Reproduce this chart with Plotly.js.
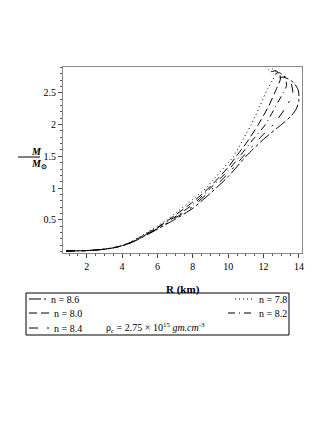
<!DOCTYPE html>
<html>
<head>
<meta charset="utf-8">
<script src="https://cdn.plot.ly/plotly-3.0.1.min.js"></script>
<style>
  body { margin: 0; background: #fff; }
  #chart { width: 327px; height: 423px; }
</style>
</head>
<body>
<div id="chart"></div>
<script>
// mass-radius curves, R in km, M in solar masses
var names = ['n = 8.6', 'n = 8.0', 'n = 8.4', 'n = 7.8', 'n = 8.2'];
var dashes = ['12px,3px,3px,3px', '8px,4px', '9px,9px,2px,9px', '1px,3px', '7px,4px,1px,4px'];

var r86 = [0.83, 2.0, 3.0, 3.5, 4.0, 4.5, 5.0, 6.0, 6.95, 8.0, 9.0, 10.0, 11.0, 12.0, 13.0, 13.5, 13.85, 14.0, 13.95, 13.7, 13.4, 13.1, 12.9];
var m86 = [0.005, 0.012, 0.033, 0.055, 0.088, 0.135, 0.2, 0.35, 0.5, 0.68, 0.92, 1.18, 1.5, 1.77, 2.0, 2.12, 2.25, 2.4, 2.55, 2.66, 2.72, 2.75, 2.74];

var r80 = [0.83, 2.0, 3.0, 3.5, 4.0, 4.5, 5.0, 6.0, 6.65, 8.0, 8.9, 10.0, 10.45, 11.0, 11.7, 12.3, 12.7, 12.95, 12.9, 12.7, 12.5, 12.3];
var m80 = [0.005, 0.012, 0.034, 0.057, 0.09, 0.145, 0.22, 0.38, 0.5, 0.78, 1.0, 1.33, 1.5, 1.7, 2.0, 2.3, 2.55, 2.72, 2.8, 2.85, 2.84, 2.83];

var r84 = [0.83, 2.0, 3.0, 3.5, 4.0, 4.5, 5.0, 6.0, 6.85, 8.0, 9.15, 10.0, 10.85, 12.0, 12.55, 13.2, 13.55, 13.65, 13.55, 13.3, 13.0, 12.7];
var m84 = [0.005, 0.012, 0.033, 0.056, 0.088, 0.138, 0.205, 0.36, 0.5, 0.71, 1.0, 1.23, 1.5, 1.85, 2.0, 2.25, 2.42, 2.52, 2.65, 2.74, 2.78, 2.77];

var r78 = [0.83, 2.0, 3.0, 3.5, 4.0, 4.5, 5.0, 6.0, 6.55, 7.0, 8.0, 8.75, 9.0, 10.0, 10.3, 11.0, 11.3, 11.8, 12.2, 12.5, 12.7, 12.65, 12.5, 12.3, 12.1];
var m78 = [0.005, 0.012, 0.035, 0.058, 0.092, 0.15, 0.23, 0.4, 0.5, 0.6, 0.82, 1.0, 1.08, 1.4, 1.5, 1.85, 2.0, 2.3, 2.55, 2.7, 2.8, 2.86, 2.88, 2.87, 2.85];

var r82 = [0.83, 2.0, 3.0, 3.5, 4.0, 4.5, 5.0, 6.0, 6.75, 8.0, 9.0, 10.0, 10.65, 11.5, 12.1, 12.7, 13.1, 13.3, 13.2, 12.9, 12.7, 12.5];
var m82 = [0.005, 0.012, 0.034, 0.056, 0.089, 0.14, 0.21, 0.37, 0.5, 0.74, 1.0, 1.28, 1.5, 1.8, 2.0, 2.3, 2.5, 2.62, 2.74, 2.82, 2.81, 2.8];

var radii = [r86, r80, r84, r78, r82];
var masses = [m86, m80, m84, m78, m82];

var yTicks = [0.5, 1, 1.5, 2, 2.5];
var xTicks = [2, 4, 6, 8, 10, 12, 14];

var serif = 'Liberation Serif, Times New Roman, serif';

// plot area in pixels: left 63, right 302, top 67, bottom 253
function px(x) { return (x - 63) / 239; }
function py(y) { return 1 - (y - 67) / 186; }

var data = names.map(function (n, i) {
  return {
    x: radii[i], y: masses[i], name: n, type: 'scatter', mode: 'lines',
    line: { color: 'black', width: 1, dash: dashes[i], shape: 'spline', smoothing: 0.7 }
  };
});

// hand-drawn legend (two columns, boxed, like the original)
var legendRows = [
  { x0: 29, x1: 46, y: 299, tx: 49 },
  { x0: 29, x1: 49, y: 313, tx: 52 },
  { x0: 29, x1: 50, y: 328, tx: 52 },
  { x0: 235, x1: 253, y: 299, tx: 257 },
  { x0: 228, x1: 253, y: 313, tx: 257 }
];

var shapes = [
  { type: 'rect', xref: 'paper', yref: 'paper', x0: px(26), x1: px(289), y0: py(293), y1: py(335),
    line: { color: 'black', width: 1 } },
  { type: 'line', xref: 'paper', yref: 'paper', x0: px(18), x1: px(40), y0: py(157), y1: py(157),
    line: { color: 'black', width: 1 } }
];

var annotations = [
  { text: '<b>R (km)</b>', xref: 'paper', yref: 'paper', x: px(183), y: py(289), yanchor: 'middle',
    showarrow: false, font: { family: serif, size: 11 } },
  { text: '<b><i>M</i></b>', xref: 'paper', yref: 'paper', x: px(29), y: py(151), yanchor: 'middle',
    showarrow: false, font: { family: serif, size: 10 } },
  { text: '<b><i>M</i></b><sub><b>⊙</b></sub>', xref: 'paper', yref: 'paper', x: px(29), y: py(164), yanchor: 'middle',
    showarrow: false, font: { family: serif, size: 10 } },
  { text: 'ρ<sub><i>c</i></sub> = 2.75 × 10<sup>15</sup> <i>gm.cm</i><sup>-3</sup>', xref: 'paper', yref: 'paper',
    x: px(104), y: py(328), xanchor: 'left', yanchor: 'middle',
    showarrow: false, font: { family: serif, size: 10 } }
];

legendRows.forEach(function (r, i) {
  shapes.push({ type: 'line', xref: 'paper', yref: 'paper', x0: px(r.x0), x1: px(r.x1), y0: py(r.y), y1: py(r.y),
    line: { color: 'black', width: 1, dash: dashes[i] } });
  annotations.push({ text: names[i], xref: 'paper', yref: 'paper', x: px(r.tx), y: py(r.y),
    xanchor: 'left', yanchor: 'middle', showarrow: false, font: { family: serif, size: 10 } });
});

var layout = {
  width: 327, height: 423,
  margin: { l: 63, r: 25, t: 67, b: 170 },
  paper_bgcolor: 'white', plot_bgcolor: 'white',
  font: { family: serif, size: 10, color: 'black' },
  showlegend: false,
  xaxis: {
    range: [0.66, 14.17], tickvals: xTicks, ticks: 'outside', ticklen: 4,
    minor: { dtick: 0.5, ticklen: 2, ticks: 'outside', tickcolor: '#555' },
    showgrid: false, zeroline: false, showline: true, mirror: true,
    linecolor: '#888', linewidth: 1, tickcolor: '#444',
    tickfont: { family: serif, size: 10 }
  },
  yaxis: {
    range: [-0.026, 2.91], tickvals: yTicks, ticks: 'outside', ticklen: 4,
    minor: { dtick: 0.1, ticklen: 2, ticks: 'outside', tickcolor: '#555' },
    showgrid: false, zeroline: false, showline: true, mirror: true,
    linecolor: '#888', linewidth: 1, tickcolor: '#444',
    tickfont: { family: serif, size: 10 }
  },
  annotations: annotations,
  shapes: shapes
};

Plotly.newPlot('chart', data, layout, { staticPlot: true });
</script>
</body>
</html>
